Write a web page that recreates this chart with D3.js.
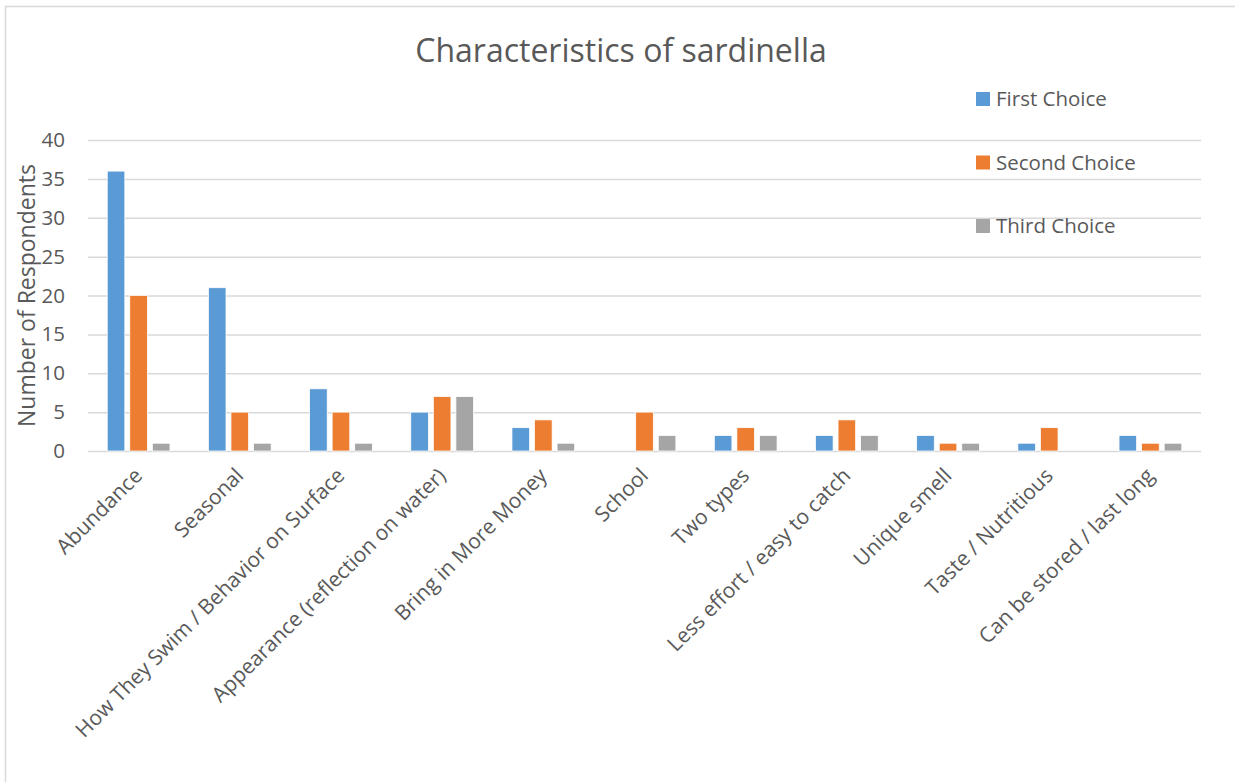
<!DOCTYPE html>
<html>
<head>
<meta charset="utf-8">
<script src="https://cdn.jsdelivr.net/npm/d3@7"></script>
<style>
  body { margin: 0; background: #fff; }
  svg text { font-family: "Open Sans", "Liberation Sans", sans-serif; fill: #595959; }
</style>
</head>
<body>
<div id="chart-area"></div>
<script>
const width = 1235, height = 782;
const margin = ({top: 140, right: 34, bottom: 331, left: 88});

// Data
const categories = [
    "Abundance", "Seasonal", "How They Swim / Behavior on Surface",
    "Appearance (reflection on water)", "Bring in More Money", "School",
    "Two types", "Less effort / easy to catch", "Unique smell",
    "Taste / Nutritious", "Can be stored / last long"
];
const seriesNames = ["First Choice", "Second Choice", "Third Choice"];
const firstChoice  = [36, 21, 8, 5, 3, 0, 2, 2, 2, 1, 2];
const secondChoice = [20, 5, 5, 7, 4, 5, 3, 4, 1, 3, 1];
const thirdChoice  = [1, 1, 1, 7, 1, 2, 2, 2, 1, 0, 1];
const yTicks = [0, 5, 10, 15, 20, 25, 30, 35, 40];
const colors = ["#5B9BD5", "#ED7D31", "#A5A5A5"];

const seriesValues = [firstChoice, secondChoice, thirdChoice];
const rows = categories.map((c, i) => ({
    category: c,
    values: seriesNames.map((s, j) => ({series: s, value: seriesValues[j][i]}))
}));

const svg = d3.select("#chart-area").append("svg")
    .attr("width", width)
    .attr("height", height);

// chart frame
svg.append("rect")
    .attr("x", 5.5).attr("y", 6.5)
    .attr("width", width + 20).attr("height", height + 20)
    .attr("fill", "#fff")
    .attr("stroke", "#d9d9d9")
    .attr("stroke-width", 1.5);

const x0 = d3.scaleBand()
    .domain(categories)
    .range([margin.left, width - margin.right])
    .paddingInner(0.38)
    .paddingOuter(0.19);

const x1 = d3.scaleBand()
    .domain(seriesNames)
    .range([0, x0.bandwidth()])
    .paddingInner(0.22);

const y = d3.scaleLinear()
    .domain([0, 40])
    .range([height - margin.bottom, margin.top]);

const color = d3.scaleOrdinal().domain(seriesNames).range(colors);

// gridlines + y labels
const yAxis = (g) => g
    .attr("transform", `translate(${margin.left},0)`)
    .call(d3.axisLeft(y).tickValues(yTicks).tickSize(-(width - margin.left - margin.right)).tickPadding(23))
    .call(g => g.select(".domain").remove())
    .call(g => g.selectAll(".tick line").attr("stroke", "#d9d9d9").attr("stroke-width", 1.5))
    .call(g => g.selectAll(".tick text")
        .attr("font-size", 20.5)
        .attr("fill", "#595959")
        .attr("font-family", "'Open Sans', sans-serif"));

svg.append("g").call(yAxis);

// bars
svg.append("g")
    .selectAll("g")
    .data(rows)
    .join("g")
    .attr("transform", d => `translate(${x0(d.category)},0)`)
    .selectAll("rect")
    .data(d => d.values.filter(v => v.value > 0))
    .join("rect")
    .attr("x", d => x1(d.series))
    .attr("y", d => y(d.value))
    .attr("width", x1.bandwidth())
    .attr("height", d => y(0) - y(d.value))
    .attr("fill", d => color(d.series))
    .attr("stroke", "#fff")
    .attr("stroke-width", 0.75);

// x labels, rotated
svg.append("g")
    .selectAll("text")
    .data(categories)
    .join("text")
    .attr("transform", d => `translate(${x0(d) + x0.bandwidth() / 2 + 5},${y(0) + 26}) rotate(-45)`)
    .attr("text-anchor", "end")
    .attr("font-size", 21)
    .text(d => d);

// axis title
svg.append("text")
    .attr("transform", `translate(35,${(y(0) + y(40)) / 2}) rotate(-90)`)
    .attr("text-anchor", "middle")
    .attr("font-size", 23)
    .text("Number of Respondents");

// chart title
svg.append("text")
    .attr("x", 621)
    .attr("y", 62)
    .attr("text-anchor", "middle")
    .attr("font-size", 32)
    .text("Characteristics of sardinella");

// legend
const legend = svg.append("g")
    .selectAll("g")
    .data(seriesNames)
    .join("g")
    .attr("transform", (d, i) => `translate(976,${99 + i * 63.5})`);

legend.append("rect")
    .attr("x", 0).attr("y", -7)
    .attr("width", 14).attr("height", 14)
    .attr("fill", d => color(d));

legend.append("text")
    .attr("x", 20)
    .attr("dy", "0.35em")
    .attr("font-size", 20.5)
    .text(d => d);
</script>
</body>
</html>
